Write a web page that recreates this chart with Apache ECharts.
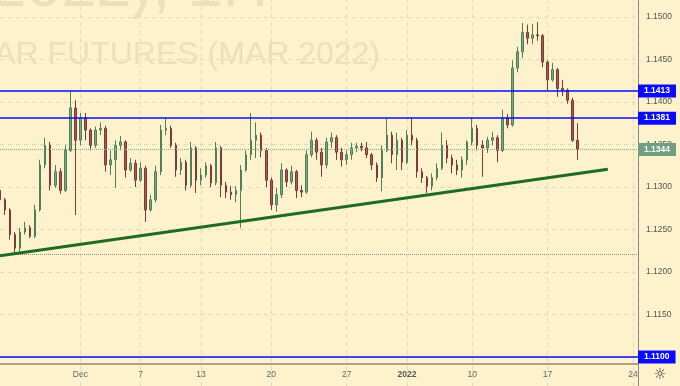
<!DOCTYPE html>
<html><head><meta charset="utf-8">
<script src="https://cdn.jsdelivr.net/npm/echarts@6/dist/echarts.min.js"></script>
<style>html,body{margin:0;padding:0;background:#fdf2cc;}#c{width:680px;height:386px;}</style>
</head><body><div id="c"></div>
<script>
// ---- data ----
const slotCount = 128; // bar slots incl. empty future space
const categories = Array.from({length: slotCount}, (_, i) => 'bar' + i);
const tickIndex = [16, 28, 40, 54, 69, 81, 94, 109, 126];
const tickText  = ['Dec', '7', '13', '20', '27', '2022', '10', '17', '24'];

const opens = [1.1296,1.1285,1.1273,1.1244,1.1228,1.1247,1.1252,1.1242,1.1273,1.1326,1.1349,1.1302,1.1318,1.1296,1.1343,1.1393,1.1355,1.1381,1.1367,1.1349,1.1367,1.1369,1.1326,1.1332,1.1349,1.1353,1.1320,1.1328,1.1308,1.1322,1.1273,1.1285,1.1318,1.1367,1.1369,1.1349,1.1320,1.1329,1.1302,1.1346,1.1308,1.1314,1.1325,1.1305,1.1346,1.1302,1.1294,1.1291,1.1296,1.1320,1.1338,1.1355,1.1361,1.1343,1.1308,1.1279,1.1291,1.1320,1.1306,1.1318,1.1296,1.1294,1.1338,1.1355,1.1341,1.1326,1.1353,1.1358,1.1341,1.1332,1.1338,1.1346,1.1348,1.1346,1.1338,1.1326,1.1311,1.1343,1.1361,1.1338,1.1355,1.1329,1.1361,1.1355,1.1318,1.1311,1.1301,1.1311,1.1322,1.1349,1.1334,1.1326,1.1320,1.1332,1.1353,1.1369,1.1349,1.1346,1.1355,1.1358,1.1343,1.1381,1.1373,1.1440,1.1459,1.1482,1.1475,1.1479,1.1478,1.1447,1.1426,1.1438,1.1416,1.1414,1.1402,1.1355];
const closes = [1.1285,1.1273,1.1244,1.1228,1.1247,1.1252,1.1242,1.1273,1.1326,1.1349,1.1302,1.1318,1.1296,1.1343,1.1393,1.1355,1.1381,1.1367,1.1349,1.1367,1.1369,1.1326,1.1332,1.1349,1.1353,1.1320,1.1328,1.1308,1.1322,1.1273,1.1285,1.1318,1.1367,1.1369,1.1349,1.1320,1.1329,1.1302,1.1346,1.1308,1.1314,1.1325,1.1305,1.1346,1.1302,1.1294,1.1291,1.1296,1.1320,1.1338,1.1355,1.1361,1.1343,1.1308,1.1279,1.1291,1.1320,1.1306,1.1318,1.1296,1.1294,1.1338,1.1355,1.1341,1.1326,1.1353,1.1358,1.1341,1.1332,1.1338,1.1346,1.1348,1.1346,1.1338,1.1326,1.1311,1.1343,1.1361,1.1338,1.1355,1.1329,1.1361,1.1355,1.1318,1.1311,1.1301,1.1311,1.1322,1.1349,1.1334,1.1326,1.1320,1.1332,1.1353,1.1369,1.1349,1.1346,1.1355,1.1358,1.1343,1.1381,1.1373,1.1440,1.1459,1.1482,1.1475,1.1479,1.1478,1.1447,1.1426,1.1438,1.1416,1.1414,1.1402,1.1355,1.1344];
const lows = [1.1279,1.1267,1.1238,1.1220,1.1224,1.1244,1.1240,1.1240,1.1271,1.1322,1.1296,1.1299,1.1292,1.1294,1.1341,1.1267,1.1349,1.1355,1.1343,1.1346,1.1361,1.1318,1.1314,1.1299,1.1343,1.1311,1.1318,1.1300,1.1306,1.1259,1.1271,1.1282,1.1314,1.1361,1.1346,1.1312,1.1314,1.1296,1.1299,1.1293,1.1302,1.1311,1.1300,1.1302,1.1288,1.1287,1.1285,1.1282,1.1252,1.1318,1.1332,1.1334,1.1335,1.1300,1.1273,1.1271,1.1287,1.1300,1.1303,1.1287,1.1288,1.1292,1.1335,1.1332,1.1312,1.1322,1.1346,1.1332,1.1324,1.1326,1.1332,1.1341,1.1342,1.1334,1.1320,1.1306,1.1295,1.1341,1.1328,1.1320,1.1320,1.1327,1.1349,1.1311,1.1305,1.1293,1.1296,1.1308,1.1320,1.1328,1.1316,1.1314,1.1311,1.1326,1.1349,1.1343,1.1312,1.1340,1.1349,1.1329,1.1341,1.1369,1.1371,1.1435,1.1452,1.1468,1.1468,1.1472,1.1441,1.1414,1.1424,1.1406,1.1407,1.1398,1.1353,1.1332];
const highs = [1.1302,1.1287,1.1275,1.1247,1.1252,1.1259,1.1255,1.1279,1.1332,1.1358,1.1353,1.1326,1.1322,1.1349,1.1412,1.1402,1.1387,1.1387,1.1369,1.1371,1.1376,1.1372,1.1343,1.1355,1.1360,1.1355,1.1334,1.1332,1.1329,1.1325,1.1291,1.1325,1.1373,1.1382,1.1372,1.1352,1.1334,1.1332,1.1353,1.1348,1.1322,1.1329,1.1327,1.1353,1.1348,1.1306,1.1301,1.1301,1.1326,1.1343,1.1387,1.1376,1.1364,1.1346,1.1311,1.1299,1.1328,1.1322,1.1325,1.1320,1.1302,1.1343,1.1365,1.1358,1.1346,1.1358,1.1364,1.1361,1.1346,1.1343,1.1352,1.1352,1.1352,1.1353,1.1340,1.1329,1.1349,1.1381,1.1365,1.1364,1.1358,1.1367,1.1381,1.1358,1.1322,1.1313,1.1316,1.1328,1.1364,1.1355,1.1338,1.1332,1.1336,1.1355,1.1381,1.1373,1.1355,1.1359,1.1365,1.1361,1.1391,1.1386,1.1449,1.1465,1.1493,1.1491,1.1492,1.1494,1.1480,1.1449,1.1446,1.1440,1.1426,1.1416,1.1405,1.1375];

const levelLines = [1.1413, 1.1381, 1.1100];   // blue horizontal levels
const lastPrice = 1.1344;                        // last close marker
const refLevel = 1.1221;                         // grey dotted level
const trendLine = [[0, 1.1219], [121, 1.1321]];  // green support trend line
const priceMin = 1.105, priceMax = 1.155, priceStep = 0.005;

// ---- chart ----
const chart = echarts.init(document.getElementById('c'), null, {renderer: 'canvas'});
const candleData = opens.map((o, i) => [o, closes[i], lows[i], highs[i]]);
const isTick = (idx) => tickIndex.indexOf(idx) >= 0;
const lblFont = 'Liberation Sans';

const boxLabel = (bg) => ({
  show: true, position: 'end', distance: 0,
  formatter: (p) => Number(p.value).toFixed(4),
  backgroundColor: bg, color: '#ffffff', fontSize: 8.5, fontWeight: 'bold',
  fontFamily: lblFont, padding: [2, 6, 1, 6], lineHeight: 10
});

chart.setOption({
  backgroundColor: '#fdf2cc',
  animation: false,
  grid: {left: 0, right: 42, top: -25.5, height: 425, containLabel: false, outerBoundsMode: 'none'},
  xAxis: {
    type: 'category', data: categories, boundaryGap: false, offset: -35.5,
    axisLine: {show: true, lineStyle: {color: '#a9a390', width: 2}},
    axisTick: {show: false},
    axisLabel: {
      interval: (idx) => isTick(idx),
      formatter: (v, idx) => {
        const t = tickText[tickIndex.indexOf(idx)] || '';
        return t === '2022' ? '{b|' + t + '}' : t;
      },
      color: '#666', fontSize: 8.5, fontFamily: lblFont, margin: 6,
      rich: {b: {fontWeight: 'bold', color: '#555', fontSize: 8.5, fontFamily: lblFont}}
    },
    splitLine: {show: true, interval: (idx) => isTick(idx), lineStyle: {color: '#e2d9bd', type: [4, 4], width: 1}}
  },
  yAxis: {
    type: 'value', position: 'right', min: priceMin, max: priceMax, interval: priceStep, scale: true,
    axisLine: {show: true, lineStyle: {color: '#8a8a8a', width: 1}},
    axisTick: {show: false},
    axisLabel: {formatter: (v) => v.toFixed(4), color: '#555', fontSize: 8.5, fontFamily: lblFont, margin: 8},
    splitLine: {show: true, lineStyle: {color: '#e2d9bd', type: [4, 4], width: 1}}
  },
  graphic: [
    {type: 'text', z: 1, x: 268, y: 20, style: {text: '2022), 1H', align: 'right', verticalAlign: 'bottom', fontSize: 63, fontFamily: lblFont, fill: '#ebe0ba'}},
    {type: 'text', z: 1, x: 380, y: 71, style: {text: 'AR FUTURES (MAR 2022)', align: 'right', verticalAlign: 'bottom', fontSize: 32, fontFamily: lblFont, fill: '#ebe0ba'}},
    {type: 'text', z: 5, x: 660, y: 375, style: {text: '\u263C', align: 'center', verticalAlign: 'middle', fontSize: 15, fontFamily: 'DejaVu Sans', fill: '#333'}}
  ],
  series: [{
    type: 'candlestick',
    data: candleData,
    barWidth: 2,
    clip: false,
    itemStyle: {color: '#7aa886', color0: '#a65a55', borderColor: '#4d8058', borderColor0: '#7e3a36', borderWidth: 1},
    markLine: {
      silent: true, symbol: ['none', 'none'], animation: false, precision: 4,
      data: [
        {yAxis: refLevel, lineStyle: {color: '#8f8f8f', type: 'dotted', width: 1}, label: {show: false}},
        {yAxis: lastPrice, lineStyle: {color: '#86b08f', type: 'dotted', width: 1}, label: boxLabel('#6f9e80')},
        {yAxis: levelLines[0], lineStyle: {color: '#0a0aff', type: 'solid', width: 1.5}, label: boxLabel('#0a0aff')},
        {yAxis: levelLines[1], lineStyle: {color: '#0a0aff', type: 'solid', width: 1.5}, label: boxLabel('#0a0aff')},
        {yAxis: levelLines[2], lineStyle: {color: '#0a0aff', type: 'solid', width: 1.5}, label: boxLabel('#0a0aff')},
        [
          {coord: trendLine[0], lineStyle: {color: '#1f6b22', type: 'solid', width: 3}, label: {show: false}},
          {coord: trendLine[1]}
        ]
      ]
    }
  }]
});
</script></body></html>
